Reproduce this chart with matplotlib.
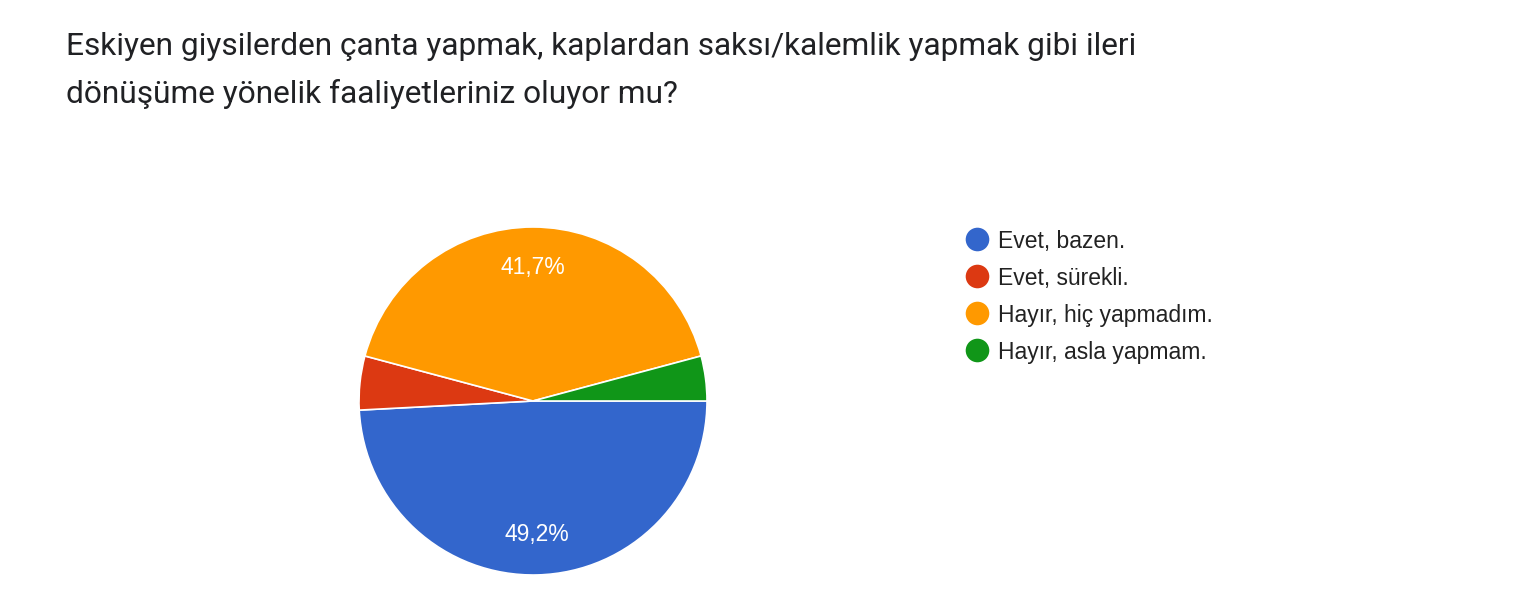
import matplotlib.pyplot as plt
from matplotlib.lines import Line2D

# veriler
title_lines = ["Eskiyen giysilerden çanta yapmak, kaplardan saksı/kalemlik yapmak gibi ileri",
               "dönüşüme yönelik faaliyetleriniz oluyor mu?"]
labels = ["Evet, bazen.", "Evet, sürekli.", "Hayır, hiç yapmadım.", "Hayır, asla yapmam."]
counts = [59, 6, 50, 5]
colors = ["#3366cc", "#dc3912", "#ff9900", "#109618"]

W, H = 1520, 600
fig = plt.figure(figsize=(W / 100, H / 100), dpi=100)
fig.patch.set_facecolor("white")

# pasta konumu (piksel)
cx, cy, r = 533, 401, 174
ax = fig.add_axes([(cx - r) / W, (H - cy - r) / H, 2 * r / W, 2 * r / H])

def pct_fmt(p):
    if p < 10:
        return ""
    return ("%.1f%%" % p).replace(".", ",")

wedges, texts, autotexts = ax.pie(counts, colors=colors, startangle=0, counterclock=False,
                                  autopct=pct_fmt, pctdistance=0.77,
                                  wedgeprops=dict(edgecolor="white", linewidth=1.2))
for t in autotexts:
    t.set_color("white")
    t.set_fontsize(16.5)
    t.set_family("Liberation Sans")
ax.set_xlim(-1, 1)
ax.set_ylim(-1, 1)
ax.set_aspect("equal")
ax.axis("off")

# başlık
for i, line in enumerate(title_lines):
    fig.text(66 / W, 1 - (55 + i * 48) / H, line, fontsize=22.8, family="Roboto",
             color="#202124", va="baseline", ha="left")

# lejant
for i, (lab, col) in enumerate(zip(labels, colors)):
    y = 1 - (239 + i * 37) / H
    fig.add_artist(Line2D([977 / W], [y], marker="o", markersize=17, color=col,
                          markeredgewidth=0, transform=fig.transFigure))
    fig.text(998 / W, y, lab, fontsize=16.5, family="Liberation Sans", color="#222222",
             va="center_baseline", ha="left")

fig.savefig("out.png", dpi=100)
